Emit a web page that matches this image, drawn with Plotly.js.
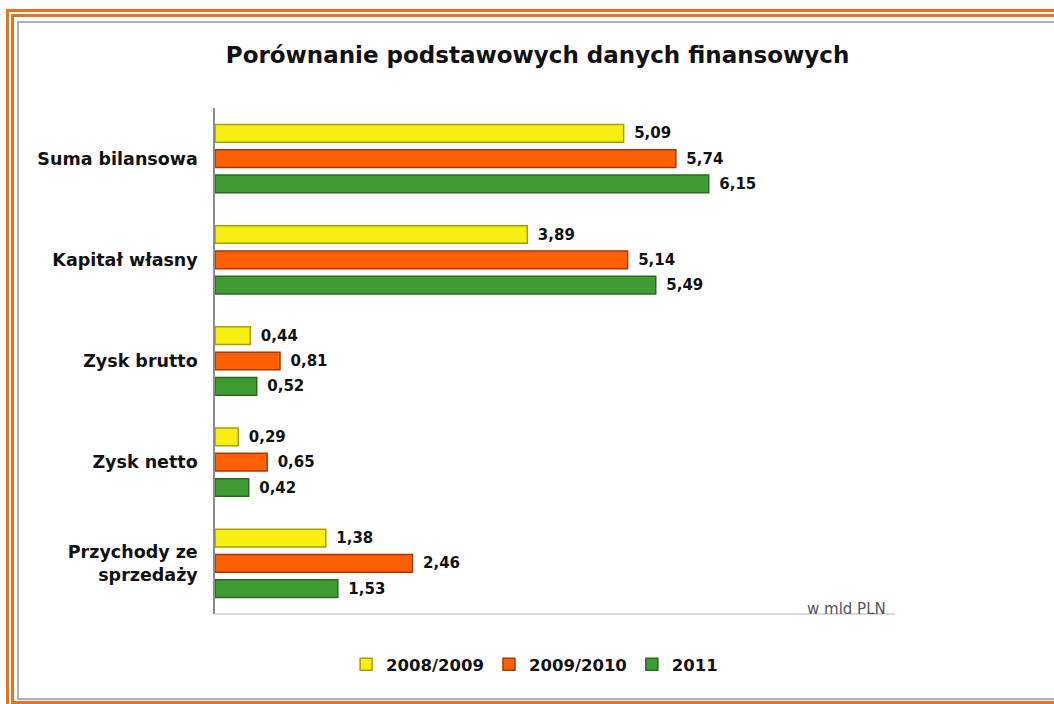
<!DOCTYPE html>
<html>
<head>
<meta charset="utf-8">
<script src="https://cdn.plot.ly/plotly-3.0.1.min.js"></script>
<style>
  body { margin: 0; background: #fff; overflow: hidden; }
  .frame { position: absolute; box-sizing: border-box; width: 1200px; }
  #chart { position: absolute; left: 0; top: 0; width: 1054px; height: 704px; }
</style>
</head>
<body>
<div class="frame" style="left:6px; top:9px; height:720px; border:3px solid #E8731A;"></div>
<div class="frame" style="left:11px; top:14px; height:690px; border:3px solid #E8731A;"></div>
<div class="frame" style="left:17px; top:21px; height:679px; border:2px solid #b0b0b0;"></div>
<div id="chart"></div>
<script>
// categories and values (w mld PLN)
let categories = ['Suma bilansowa', 'Kapitał własny', 'Zysk brutto', 'Zysk netto', 'Przychody ze<br>sprzedaży'];
let seriesNames = ['2008/2009', '2009/2010', '2011'];
let values2008 = [5.09, 3.89, 0.44, 0.29, 1.38];
let values2009 = [5.74, 5.14, 0.81, 0.65, 2.46];
let values2011 = [6.15, 5.49, 0.52, 0.42, 1.53];

let fills = ['#F7EE12', '#FF5F05', '#3F9C32'];
let edges = ['#A89F00', '#A53A00', '#2C6A22'];
let allValues = [values2008, values2009, values2011];

let data = [];
for (let i = 0; i < allValues.length; i++) {
    data.push({
        type: 'bar',
        orientation: 'h',
        name: seriesNames[i],
        x: allValues[i],
        y: categories,
        marker: { color: fills[i], line: { color: edges[i], width: 1.5 } },
        texttemplate: '\u2002%{x:.2f}',
        textposition: 'outside',
        constraintext: 'none',
        cliponaxis: false,
        textfont: { family: 'DejaVu Sans', size: 15, color: '#111', weight: 'bold' },
        hoverinfo: 'x+name'
    });
}

let layout = {
    width: 1054,
    height: 704,
    paper_bgcolor: 'rgba(0,0,0,0)',
    plot_bgcolor: 'rgba(0,0,0,0)',
    separators: ', ',
    barmode: 'group',
    bargap: 0.25,
    bargroupgap: 0.3,
    margin: { l: 215, r: 159, t: 108, b: 90 },
    title: {
        text: '<b>Porównanie podstawowych danych finansowych</b>',
        font: { family: 'DejaVu Sans', size: 23, color: '#111' },
        x: 0.51, xanchor: 'center',
        y: 0.922, yanchor: 'middle'
    },
    xaxis: {
        range: [0, 8.47],
        showticklabels: false,
        showgrid: false,
        zeroline: false,
        ticks: '',
        showline: false
    },
    yaxis: {
        autorange: 'reversed',
        showline: true,
        linecolor: '#8c8c8c',
        linewidth: 1.5,
        ticks: '',
        ticklabelstandoff: 12,
        tickfont: { family: 'DejaVu Sans', size: 17.5, color: '#111', weight: 'bold' }
    },
    shapes: [{
        type: 'line', xref: 'paper', yref: 'paper',
        x0: 0, x1: 1, y0: 0, y1: 0,
        line: { color: '#cccccc', width: 1.5 }
    }],
    annotations: [{
        text: 'w mld PLN',
        xref: 'paper', yref: 'paper',
        x: 0.928, y: 0.0, xanchor: 'center', yanchor: 'middle',
        yshift: 5,
        showarrow: false,
        font: { family: 'DejaVu Sans', size: 15, color: '#555' }
    }],
    legend: {
        orientation: 'h',
        x: 0.47, xanchor: 'center',
        y: -0.1, yanchor: 'middle',
        font: { family: 'DejaVu Sans', size: 16.5, color: '#111', weight: 'bold' },
        itemwidth: 30
    },
    showlegend: true
};

Plotly.newPlot('chart', data, layout, { displayModeBar: false });
</script>
</body>
</html>
